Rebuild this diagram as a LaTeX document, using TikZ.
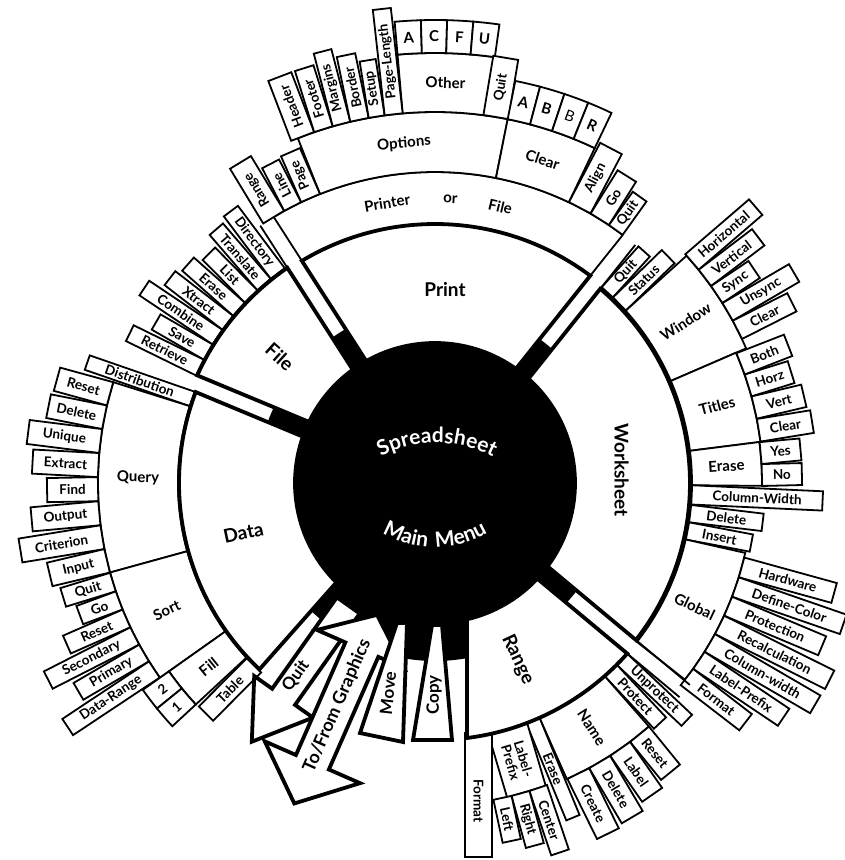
\documentclass[tikz,border=0pt]{standalone}
\usepackage{fontspec}
\setmainfont{Lato}
\newfontfamily\ctrfontA{Lato}[LetterSpace=3]
\newfontfamily\ctrfontB{Lato}[LetterSpace=14]
\usetikzlibrary{calc,decorations.text}
\newcommand\rbox[8]{%
  \pgfmathsetmacro\bxh{#5*sin(#4/2)}%
  \pgfmathsetmacro\bxr{(#5+#6)/2}%
  \pgfmathsetmacro\bxt{#3-#7}%
  \draw[bx] ($(#3:#5)+(#3+90:\bxh)$) -- ($(#3:#6)+(#3+90:\bxh)$) -- ($(#3:#6)+(#3-90:\bxh)$) -- ($(#3:#5)+(#3-90:\bxh)$) -- cycle;
  \node[#1, rotate=\bxt] (#2) at (#3:\bxr) {#8};
}
\newcommand\abox[8]{%
  \pgfmathsetmacro\bxa{(#3+#4)/2}%
  \pgfmathsetmacro\bxr{(#5+#6)/2}%
  \pgfmathsetmacro\bxt{\bxa-#7}%
  \draw[bx] (#3:#5) arc[start angle=#3, end angle=#4, radius=#5] -- (#4:#6) arc[start angle=#4, end angle=#3, radius=#6] -- cycle;
  \node[#1, rotate=\bxt] (#2) at (\bxa:\bxr) {#8};
}
\newcommand\msector[3]{%
  \pgfmathsetmacro\sla{#1+asin(8/140)}%
  \pgfmathsetmacro\slb{#1+asin(8/#3)}%
  \pgfmathsetmacro\sha{#2-asin(8/140)}%
  \pgfmathsetmacro\shb{#2-asin(8/#3)}%
  \filldraw[mainsec] (\sla:140) -- (\slb:#3) arc[start angle=\slb, end angle=\shb, radius=#3] -- (\sha:140) arc[start angle=\sha, end angle=\sla, radius=140] -- cycle;
}
\newcommand\spkext[4]{%
  \draw[bxl] ($(#1:#2)+(#1+90:8)$) -- ($(#1:#4)+(#1+90:8)$);
  \draw[bxl] ($(#1:#3)+(#1-90:8)$) -- ($(#1:#4)+(#1-90:8)$);
}
\begin{document}
\begin{tikzpicture}[x=1pt,y=1pt,
  bx/.style={draw=black, fill=white, line width=1.8pt, line join=miter},
  bxl/.style={draw=black, line width=1.8pt},
  mainsec/.style={draw=black, fill=white, line width=3.8pt, line join=miter},
  lb/.style={font=\fontsize{13.5}{13.5}\selectfont\bfseries, inner sep=0pt, align=center},
  lbb/.style={font=\fontsize{15}{15}\selectfont\bfseries, inner sep=0pt, align=center},
  lbm/.style={font=\fontsize{19}{19}\selectfont\bfseries, inner sep=0pt, align=center},
  lba/.style={font=\fontsize{17}{17}\selectfont\bfseries, inner sep=0pt, align=center},
]
\useasboundingbox[fill=white] (-435,-377) rectangle (410,483);

% ---------- Print submenu ----------
\draw[bxl] (52.9:311) arc[start angle=52.9, end angle=121.2, radius=311];
\node[lbb, rotate=9.7] (tprinter) at (99.7:284) {Printer};
\node[lbb, rotate=-3.1] (tor) at (86.9:284) {or};
\node[lbb, rotate=-13.3] (tfile) at (76.7:284) {File};
\abox{lbb}{opt}{78.7}{111.7}{311}{371}{90}{Options}
\abox{lbb}{clr}{64.5}{78.7}{311}{371}{90}{Clear}
\abox{lbb}{oth}{82}{95}{371}{430}{90}{Other}
\abox{lbb}{oa}{91.75}{95}{430}{463}{90}{A}
\abox{lbb}{oc}{88.5}{91.75}{430}{463}{90}{C}
\abox{lbb}{of}{85.25}{88.5}{430}{463}{90}{F}
\abox{lbb}{ou}{82}{85.25}{430}{463}{90}{U}
\rbox{lb}{pq}{80.55}{3.9}{371}{431}{0}{Quit}
\abox{lbb}{ca}{75.15}{78.7}{371}{410}{90}{A}
\abox{lbb}{cb}{71.6}{75.15}{371}{410}{90}{B}
\abox{lbb}{cbb}{68.05}{71.6}{371}{410}{90}{\mdseries B}
\abox{lbb}{cr}{64.5}{68.05}{371}{410}{90}{R}
\rbox{lb}{pal}{62.25}{4.5}{311}{378}{0}{Align}
\rbox{lb}{pgo}{58}{4}{311}{362}{0}{Go}
\rbox{lb}{pqq}{54.45}{3.1}{311}{352}{0}{Quit}
\rbox{lb}{ppg}{113.6}{3.8}{311}{361}{0}{Page}
\rbox{lb}{pln}{117.25}{3.5}{311}{359}{0}{Line}
\rbox{lb}{prg}{121.25}{4.5}{311}{375}{0}{Range}
\rbox{lb}{phd}{110.9}{3.8}{371}{435}{0}{Header}
\rbox{lb}{pft}{107.5}{3}{371}{435}{0}{Footer}
\rbox{lb}{pmg}{104.6}{2.8}{371}{446}{0}{Margins}
\rbox{lb}{pbd}{101.75}{2.9}{371}{437}{0}{Border}
\rbox{lb}{pst}{99.05}{2.5}{371}{428}{0}{Setup}
\rbox{lb}{ppl}{96.4}{2.8}{371}{477}{0}{Page-Length}

% ---------- File submenu ----------
\rbox{lb}{fdir}{126.9}{3.85}{262}{340}{180}{Directory}
\rbox{lb}{ftr}{130.75}{3.85}{262}{335}{180}{Translate}
\rbox{lb}{fls}{134.6}{3.85}{262}{322}{180}{List}
\rbox{lb}{fer}{138.45}{3.85}{262}{330}{180}{Erase}
\rbox{lb}{fxt}{142.3}{3.85}{262}{335}{180}{Xtract}
\rbox{lb}{fcb}{146.15}{3.85}{262}{350}{180}{Combine}
\rbox{lb}{fsv}{150}{3.85}{262}{322}{180}{Save}
\rbox{lb}{frt}{153.85}{3.85}{262}{340}{180}{Retrieve}

% ---------- Data submenu ----------
\rbox{lb}{ddist}{160.9}{3.4}{257}{368}{180}{Distribution}
\abox{lbb}{dq}{162.6}{195.4}{257}{337}{180}{Query}
\rbox{lb}{dqa}{164.65}{4.1}{337}{392}{180}{Reset}
\rbox{lb}{dqb}{168.75}{4.1}{337}{394}{180}{Delete}
\rbox{lb}{dqc}{172.85}{4.1}{337}{410}{180}{Unique}
\rbox{lb}{dqd}{176.95}{4.1}{337}{403}{180}{Extract}
\rbox{lb}{dqe}{181.05}{4.1}{337}{388}{180}{Find}
\rbox{lb}{dqf}{185.15}{4.1}{337}{405}{180}{Output}
\rbox{lb}{dqg}{189.25}{4.1}{337}{420}{180}{Criterion}
\rbox{lb}{dqh}{193.35}{4.1}{337}{396}{180}{Input}
\abox{lbb}{ds}{195.4}{215.3}{257}{337}{180}{Sort}
\rbox{lb}{dsa}{197.1}{3.3}{337}{389}{180}{Quit}
\rbox{lb}{dsb}{200.4}{3.3}{337}{379}{180}{Go}
\rbox{lb}{dsc}{203.7}{3.3}{337}{402}{180}{Reset}
\rbox{lb}{dsd}{207}{3.3}{337}{434}{180}{Secondary}
\rbox{lb}{dse}{210.3}{3.3}{337}{413}{180}{Primary}
\rbox{lb}{dsf}{213.6}{3.3}{337}{441}{180}{Data-Range}
\abox{lbb}{dfill}{215.3}{222.8}{257}{326}{180}{Fill}
\abox{lb}{dtwo}{215.3}{219.05}{326}{358}{180}{2}
\abox{lb}{done}{219.05}{222.8}{326}{358}{180}{1}
\rbox{lb}{dtab}{225.2}{4.5}{257}{325}{180}{Table}

% ---------- Worksheet submenu ----------
\rbox{lb}{wq}{47.9}{3.4}{257}{312}{0}{Quit}
\rbox{lb}{wst}{44.15}{4.1}{257}{325}{0}{Status}
\abox{lbb}{wwin}{23.4}{42.1}{257}{339}{0}{Window}
\rbox{lb}{wwa}{40.7}{3.46}{339}{423}{0}{Horizontal}
\rbox{lb}{wwb}{37.24}{3.46}{339}{406}{0}{Vertical}
\rbox{lb}{wwc}{33.78}{3.46}{339}{384}{0}{Sync}
\rbox{lb}{wwd}{30.32}{3.46}{339}{416}{0}{Unsync}
\rbox{lb}{wwe}{26.86}{3.46}{339}{400}{0}{Clear}
\abox{lbb}{wti}{7.2}{23.4}{257}{328}{0}{Titles}
\rbox{lb}{wta}{21.3}{4}{328}{379}{0}{Both}
\rbox{lb}{wtb}{17.3}{4}{328}{373}{0}{Horz}
\rbox{lb}{wtc}{13.3}{4}{328}{379}{0}{Vert}
\rbox{lb}{wtd}{9.25}{4}{328}{382}{0}{Clear}
\abox{lbb}{wer}{-0.5}{7.2}{257}{327}{0}{Erase}
\rbox{lb}{wy}{5.25}{3.85}{327}{367}{0}{Yes}
\rbox{lb}{wn}{1.4}{3.85}{327}{367}{0}{No}
\rbox{lb}{wcw}{-2.65}{4.3}{257}{388}{0}{Column-Width}
\rbox{lb}{wdel}{-6.85}{3.9}{257}{330}{0}{Delete}
\rbox{lb}{wins}{-10.75}{3.9}{257}{322}{0}{Insert}
\abox{lbb}{wgl}{-38.2}{-12.7}{257}{318}{0}{Global}
\rbox{lb}{wga}{-15.4}{3.7}{318}{414}{0}{Hardware}
\rbox{lb}{wgb}{-19.1}{3.7}{318}{432}{0}{Define-Color}
\rbox{lb}{wgc}{-22.8}{3.7}{318}{420}{0}{Protection}
\rbox{lb}{wgd}{-26.5}{3.7}{318}{441}{0}{Recalculation}
\rbox{lb}{wge}{-30.2}{3.7}{318}{440}{0}{Column-width}
\rbox{lb}{wgf}{-33.9}{3.7}{318}{420}{0}{Label-Prefix}
\rbox{lb}{wgg}{-37.6}{3.7}{318}{392}{0}{Format}

% ---------- Range submenu ----------
\rbox{lb}{ru}{-43.3}{3.4}{257}{346}{0}{Unprotect}
\rbox{lb}{rp}{-46.85}{3.7}{257}{329}{0}{Protect}
\abox{lbb}{rn}{-66}{-48.7}{257}{324}{0}{Name}
\rbox{lb}{rna}{-50.85}{4.3}{324}{373}{0}{Reset}
\rbox{lb}{rnb}{-55.15}{4.3}{324}{380}{0}{Label}
\rbox{lb}{rnc}{-59.45}{4.3}{324}{388}{0}{Delete}
\rbox{lb}{rnd}{-63.75}{4.3}{324}{391}{0}{Create}
\rbox{lb}{rer}{-67.6}{3.2}{257}{362}{0}{Erase}
\rbox{lb}{rlp}{-73.5}{9}{257}{322}{0}{Label-\\Prefix}
\rbox{lb}{rce}{-71.3}{3.3}{322}{390}{0}{Center}
\rbox{lb}{rri}{-74.6}{3.3}{322}{376}{0}{Right}
\rbox{lb}{rle}{-77.9}{3.3}{322}{366}{0}{Left}
\draw[bx] (30,-250) rectangle (57,-374);
\node[lb, rotate=-90] (rfmt) at (43.5,-318) {Format};

% ---------- spoke extensions ----------
\spkext{122.7}{261}{259}{311}
\spkext{51.4}{259}{257}{311}
\spkext{-39.8}{255}{255}{325}

% ---------- centre ----------
\fill[black] (0,0) circle[radius=178];
\msector{-39.8}{51.4}{255}
\msector{51.4}{122.7}{259}
\msector{122.7}{157.4}{261}
\msector{157.4}{228.5}{256}
\filldraw[mainsec] (32,-136.3) -- (32,-255) arc[start angle=-82.85, end angle=-41.58, radius=257] -- (-43.08:140) arc[start angle=-43.08, end angle=-76.79, radius=140] -- cycle;

% Quit arrow
\filldraw[mainsec] ($(-125.3:150)+(-35.3:14)$) -- ($(-125.3:262)+(-35.3:14)$) -- ($(-125.3:262)+(-35.3:36)$) -- (-125.3:317) -- ($(-125.3:262)+(-215.3:36)$) -- ($(-125.3:262)+(-215.3:14)$) -- ($(-125.3:150)+(-215.3:14)$) -- cycle;
% To/From Graphics double arrow
\filldraw[mainsec] (-113.7:144) -- ($(-113.7:182)+(-23.7:46)$) -- ($(-113.7:182)+(-23.7:18)$) -- ($(-113.7:305)+(-23.7:18)$) -- ($(-113.7:305)+(-23.7:52)$) -- (-113.7:350) -- ($(-113.7:305)+(-203.7:52)$) -- ($(-113.7:305)+(-203.7:18)$) -- ($(-113.7:182)+(-203.7:18)$) -- ($(-113.7:182)+(-203.7:49)$) -- cycle;
% Move and Copy wedges
\filldraw[mainsec] (-75,-250) -- (-32,-259) -- (-28,-140) -- (-38,-140) -- cycle;
\filldraw[mainsec] (-22,-257) -- (17,-257) -- (7,-142) -- (-3,-142) -- cycle;

% main labels
\node[lbm] (mprint) at (10,193) {Print};
\node[lbm, rotate=-42] (mfile) at (140.9:200) {File};
\node[lbm, rotate=12] (mdata) at (194.6:198) {Data};
\node[lbm, rotate=-90] (mws) at (4:187) {Worksheet};
\node[lbm, rotate=-65] (mrange) at (-64.9:195) {Range};
\node[lba, rotate=54.7] (mquit) at (-125.8:238) {Quit};
\node[lba, font=\fontsize{18}{18}\selectfont\bfseries, rotate=66.3] (mgr) at (-113.7:243) {To/From Graphics};
\node[lba, rotate=84] (mmove) at (-47,-210) {Move};
\node[lba, rotate=90] (mcopy) at (-1,-212) {Copy};

% centre title
\path[decorate, decoration={text along path, text align=center, text={|\color{white}\ctrfontA\bfseries\fontsize{21}{21}\selectfont|Spreadsheet}}] ($(2,-81)+(150:121)$) arc[start angle=150, end angle=30, radius=121];
\path[decorate, decoration={text along path, text align=center, text={|\color{white}\ctrfontB\bfseries\fontsize{21}{21}\selectfont|Main Menu}}] ($(0,40)+(210:104)$) arc[start angle=210, end angle=330, radius=104];
\end{tikzpicture}
\end{document}
